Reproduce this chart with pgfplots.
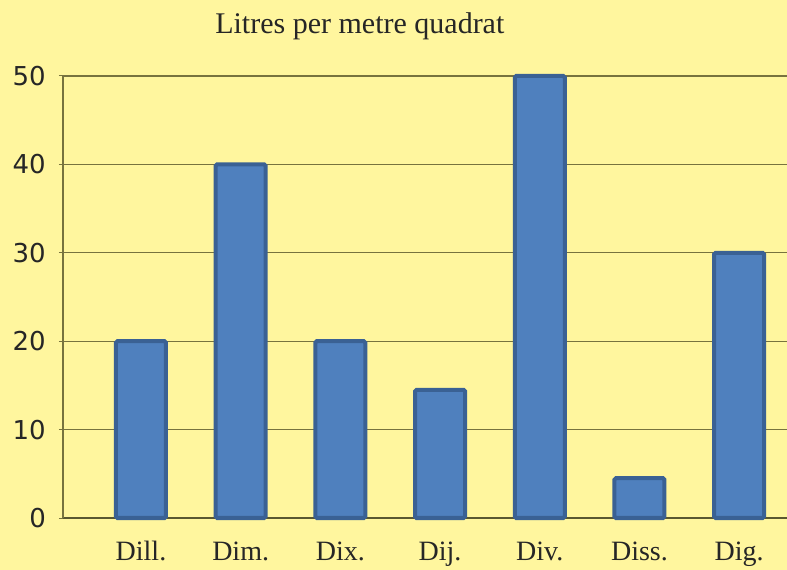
\documentclass[border=0pt]{standalone}
\usepackage{pgfplots}
\pgfplotsset{compat=1.18}
\usepackage{fontspec}
\setmainfont{Liberation Serif}
\newfontfamily\dejavu{DejaVu Sans}
\definecolor{bg}{HTML}{FFF69E}
\definecolor{barfill}{HTML}{4F80BE}
\definecolor{barline}{HTML}{3A6194}
\definecolor{gridc}{HTML}{77733E}
\definecolor{basec}{HTML}{5A5830}
\begin{document}
\begin{tikzpicture}
\fill[bg] (-63bp,-52bp) rectangle (724bp,518bp);
\useasboundingbox (-63bp,-52bp) rectangle (724bp,518bp);
\begin{axis}[
  at={(0,0)}, anchor=south west,
  scale only axis, width=724bp, height=442bp,
  xmin=-0.782, xmax=6.480, ymin=0, ymax=50,
  axis x line*=bottom, axis y line*=left,
  x axis line style={color=basec, line width=2.2bp, -},
  y axis line style={color=gridc, line width=1.2bp, -},
  xtick={0,...,6},
  xticklabels={Dill.,Dim.,Dix.,Dij.,Div.,Diss.,Dig.},
  x tick style={draw=none},
  xticklabel style={anchor=base, yshift=-38bp, font=\fontsize{28bp}{32bp}\selectfont, text=black!85},
  ytick={0,10,20,30,40,50},
  yticklabels={0,10,20,30,40,50},
  yticklabel style={anchor=east, inner sep=0pt, xshift=-13bp, yshift=0bp, font=\dejavu\fontsize{26bp}{30bp}\selectfont, text=black!85},
  y tick style={color=gridc, line width=1bp},
  tick align=outside, major tick length=4bp,
  ymajorgrids, major grid style={color=gridc, line width=1.2bp},
  axis on top=false,
  clip=false,
]
\addplot[ybar, bar width=50bp, fill=barfill, draw=barline, line width=4bp, rounded corners=1.5bp]
  coordinates {(0,20) (1,40) (2,20) (3,14.5) (4,50) (5,4.5) (6,30)};
\node[anchor=base, font=\fontsize{30bp}{34bp}\selectfont, text=black!85] at (rel axis cs:0.41,1.097) {Litres per metre quadrat};
\end{axis}
\end{tikzpicture}
\end{document}
